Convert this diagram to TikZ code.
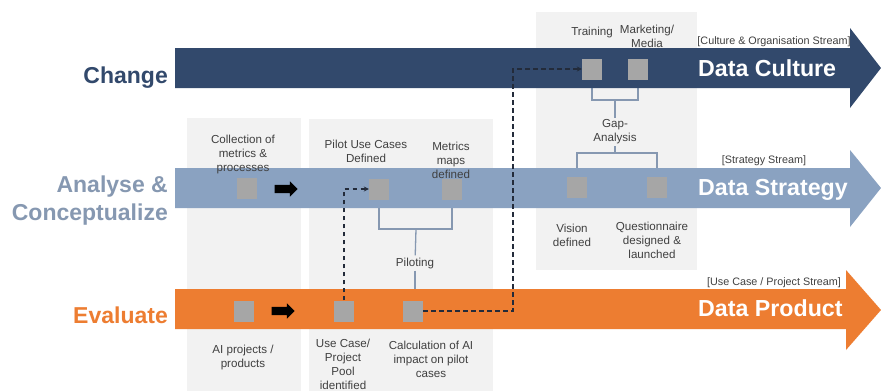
\documentclass[tikz,border=0pt]{standalone}
\usepackage{fontspec}
\setmainfont{Liberation Sans}
\usetikzlibrary{arrows.meta, shapes.arrows}

\definecolor{navy}{RGB}{50,73,108}
\definecolor{steel}{RGB}{138,162,193}
\definecolor{steeltext}{RGB}{134,152,177}
\definecolor{orangeA}{RGB}{237,125,49}
\definecolor{panelgrey}{RGB}{242,242,242}
\definecolor{boxgrey}{RGB}{166,166,166}
\definecolor{linkdark}{RGB}{35,43,58}
\definecolor{labelgrey}{RGB}{64,64,64}

\pgfdeclarelayer{panels}
\pgfdeclarelayer{brackets}
\pgfdeclarelayer{streams}
\pgfsetlayers{panels,brackets,streams,main}

\tikzset{
  milestone/.style={fill=boxgrey, minimum width=20pt, minimum height=21pt, inner sep=0pt},
  note/.style={text=labelgrey, font=\fontsize{11.6}{14}\selectfont, align=center, inner sep=2pt},
  streamtag/.style={text=labelgrey, font=\fontsize{10.8}{12}\selectfont, anchor=base, inner sep=0pt},
  streamname/.style={text=white, font=\fontsize{23.2}{26}\selectfont\bfseries, anchor=base west, inner sep=0pt},
  phase/.style={font=\fontsize{23}{28}\selectfont\bfseries, align=right, inner sep=0pt},
  stepper/.style={single arrow, fill=black, inner sep=4pt, minimum height=23pt,
    single arrow head extend=3.5pt, single arrow head indent=0pt},
  bracket/.style={draw=steeltext, line width=1.3pt},
  dashlink/.style={draw=linkdark, line width=1.3pt, dash pattern=on 4.5pt off 3.5pt,
    -{Stealth[length=5pt,width=5pt]}},
}

\begin{document}
\begin{tikzpicture}[x=1pt,y=-1pt]
  \useasboundingbox (0,0) rectangle (881,391);

  % Grey phase panels
  \begin{pgfonlayer}{panels}
    \fill[white] (0,0) rectangle (881,391);
    \fill[panelgrey] (187,118) rectangle (301,391);
    \fill[panelgrey] (309,119) rectangle (493,391);
    \fill[panelgrey] (536,12) rectangle (697,270);
  \end{pgfonlayer}

  % Stream arrows
  \begin{pgfonlayer}{streams}
    \fill[navy] (175,48) -- (850,48) -- (850,28) -- (881,68) -- (850,108) -- (850,88) -- (175,88) -- cycle;
    \fill[steel] (175,168) -- (850,168) -- (850,150) -- (881,188) -- (850,227) -- (850,208) -- (175,208) -- cycle;
    \fill[orangeA] (175,289) -- (846,289) -- (846,270) -- (881,310) -- (846,350) -- (846,329) -- (175,329) -- cycle;
  \end{pgfonlayer}

  % Phase labels
  \node[phase, text=navy, anchor=base east] (change) at (168,83) {Change};
  \node[phase, text=steeltext, anchor=east] (analyse) at (168,201) {Analyse \&\\Conceptualize};
  \node[phase, text=orangeA, anchor=base east] (evaluate) at (168,323) {Evaluate};

  % Stream names and tags
  \node[streamname] (culture) at (698,76) {Data Culture};
  \node[streamname] (strategy) at (698,195) {Data Strategy};
  \node[streamname] (product) at (698,316) {Data Product};
  \node[streamtag] (culturetag) at (774,44) {[Culture \& Organisation Stream]};
  \node[streamtag] (strategytag) at (764,163) {[Strategy Stream]};
  \node[streamtag] (producttag) at (774,285) {[Use Case / Project Stream]};

  % Milestones
  \node[milestone] (train) at (592,69) {};
  \node[milestone] (media) at (638,69) {};
  \node[milestone] (coll) at (247,188) {};
  \node[milestone] (pilot) at (379,189) {};
  \node[milestone] (metric) at (452,189) {};
  \node[milestone] (vision) at (577,187) {};
  \node[milestone] (quest) at (657,187) {};
  \node[milestone] (aiproj) at (244,311) {};
  \node[milestone] (pool) at (344,311) {};
  \node[milestone] (calc) at (413,311) {};

  \node[stepper] (stepA) at (284,189) {};
  \node[stepper] (stepB) at (281,311) {};

  % Milestone texts
  \node[note] (colltext) at (243,154) {Collection of\\metrics \&\\processes};
  \node[note] (pilottext) at (366,151) {Pilot Use Cases\\Defined};
  \node[note] (metrictext) at (451,160) {Metrics\\maps\\defined};
  \node[note] (traintext) at (592,32) {Training};
  \node[note] (mediatext) at (647,36) {Marketing/\\Media};
  \node[note] (gap) at (615,132) {Gap-\\Analysis};
  \node[note] (visiontext) at (572,235) {Vision\\defined};
  \node[note] (questtext) at (652,240) {Questionnaire\\designed \&\\launched};
  \node[note] (aitext) at (243,357) {AI projects /\\products};
  \node[note] (pooltext) at (343,364) {Use Case/\\Project\\Pool\\identified};
  \node[note] (calctext) at (431,359) {Calculation of AI\\impact on pilot\\cases};
  \node[note] (piloting) at (415,263) {Piloting};

  % Brackets
  \coordinate (gapjoin) at (615,100);
  \coordinate (gapfork) at (615,153);
  \coordinate (pilotfork) at (416,229);
  \begin{pgfonlayer}{brackets}
    \draw[bracket] (train.south) |- (gapjoin) -| (media.south);
    \draw[bracket] (gapjoin) -- (gap);
    \draw[bracket] (gap) -- (gapfork);
    \draw[bracket] (vision.north) |- (gapfork) -| (quest.north);
    \draw[bracket] (pilot.south) |- (pilotfork) -| (metric.south);
    \draw[bracket] (pilotfork) -- (piloting);
    \draw[bracket] (piloting) -- (piloting |- calc.north);
  \end{pgfonlayer}

  % Dashed links
  \coordinate (turn) at (513,311);
  \draw[dashlink] (calc.east) -- (turn) |- (train.west);
  \draw[dashlink] (pool.north) |- (pilot.west);
\end{tikzpicture}
\end{document}
